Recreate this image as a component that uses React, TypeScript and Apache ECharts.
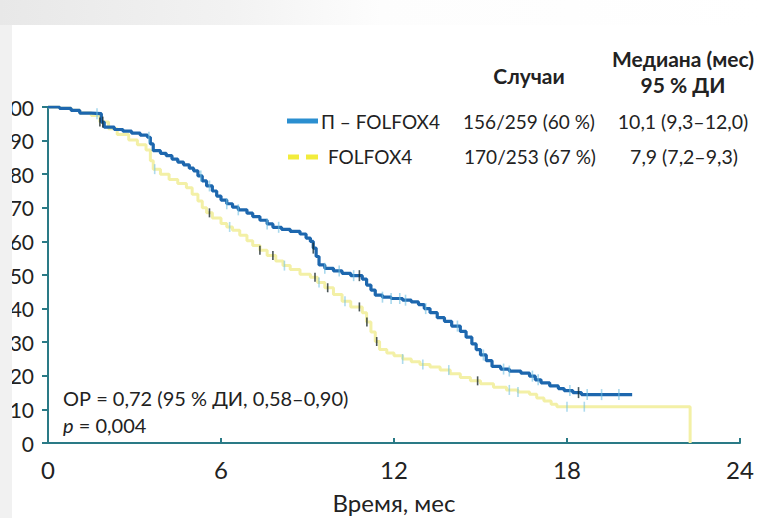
import React, { useEffect, useRef } from "react";
import * as echarts from "echarts";

// Kaplan–Meier curves: [months, survival %]
const blueCurve: [number, number][] = [
  [0, 100], [0.4, 99.6], [0.8, 99], [1.1, 98.2], [1.5, 98], [1.85, 95.5], [1.95, 94],
  [2.3, 93.3], [2.6, 92.8], [2.9, 92.2], [3.2, 91.6], [3.45, 91], [3.55, 89], [3.65, 87],
  [3.9, 86.2], [4.1, 85.5], [4.3, 84.5], [4.5, 83.6], [4.7, 82.8], [4.9, 81.8], [5.05, 81],
  [5.2, 79.5], [5.35, 78], [5.5, 76.5], [5.7, 75], [5.85, 73.5], [6.0, 72.3], [6.2, 71.2],
  [6.4, 70.2], [6.6, 69.4], [6.9, 68.4], [7.1, 67.4], [7.35, 66.3], [7.6, 65.2], [7.8, 64.2],
  [8.1, 63.6], [8.4, 63], [8.74, 62.2], [8.95, 61], [9.1, 60], [9.2, 58], [9.3, 55.5],
  [9.4, 53], [9.6, 52], [9.9, 51.2], [10.2, 50.5], [10.5, 49.8], [10.9, 48.8], [11.05, 47],
  [11.2, 45.5], [11.35, 44], [11.6, 43.4], [11.9, 43], [12.3, 42.5], [12.6, 42], [12.85, 41.2],
  [13.05, 40], [13.25, 38.8], [13.5, 37.3], [13.75, 36.2], [14.0, 34.8], [14.3, 33.2],
  [14.5, 31.5], [14.7, 29.5], [14.85, 27.8], [15.0, 26.2], [15.2, 24.5], [15.4, 22.8],
  [15.7, 22], [16.0, 21.4], [16.4, 20.8], [16.7, 19.9], [16.9, 18.8], [17.1, 17.9],
  [17.4, 17], [17.7, 16.2], [17.9, 15.6], [18.2, 15], [18.5, 14.4], [20.26, 14.4],
];
const yellowCurve: [number, number][] = [
  [0, 100], [0.4, 99.6], [0.8, 99], [1.1, 98.2], [1.5, 97.5], [1.8, 95.5], [2.1, 93.5],
  [2.4, 91.8], [2.8, 90.2], [3.1, 88.8], [3.4, 87.2], [3.55, 84], [3.65, 81.5], [3.9, 80],
  [4.2, 78.4], [4.5, 77.2], [4.8, 76], [5.0, 74], [5.2, 72], [5.35, 70], [5.5, 68.5],
  [5.7, 67], [6.0, 65.3], [6.2, 64.3], [6.4, 63.3], [6.65, 61.8], [6.9, 60.2], [7.1, 58.8],
  [7.35, 57.4], [7.6, 55.8], [7.9, 54.2], [8.15, 52.8], [8.4, 51.6], [8.74, 50.2], [9.1, 49.3],
  [9.35, 47.8], [9.6, 46.2], [9.9, 44.2], [10.2, 42.2], [10.5, 40.5], [10.9, 38.8],
  [11.05, 36], [11.2, 33], [11.35, 30.2], [11.5, 27.8], [11.75, 26.8], [12.0, 26],
  [12.3, 25], [12.6, 24.2], [12.9, 23.4], [13.25, 22.6], [13.6, 21.7], [13.95, 20.6],
  [14.3, 19.5], [14.65, 18.5], [15.0, 17.6], [15.45, 16.6], [15.9, 15.8], [16.3, 15.2],
  [16.7, 14.5], [16.95, 13.4], [17.2, 12.5], [17.45, 11.5], [17.65, 10.8], [22.27, 10.8],
  [22.27, 0],
];

// censoring marks (months)
const blueCensorLight = [1.7, 3.5, 5.3, 5.6, 6.2, 6.6, 7.6, 8.0, 9.6, 10.1, 10.6, 11.6, 11.9,
  12.2, 12.4, 13.1, 14.2, 15.1, 15.8, 16.0, 16.8, 17.0, 18.1, 18.7, 19.2, 19.8];
const blueCensorDark = [1.9, 9.2, 10.8, 18.4];
const yellowCensorLight = [3.7, 6.3, 8.2, 9.4, 10.3, 12.3, 13.0, 13.9, 16.0, 16.3, 18.0, 18.6];
const yellowCensorDark = [1.8, 5.6, 7.35, 7.8, 9.26, 9.7, 10.8, 11.06, 11.4, 14.9];

const xTicks = { min: 0, max: 24, interval: 6 };
const yTicks = { min: 0, max: 100, interval: 10 };

const legendNames = ["П – FOLFOX4", "FOLFOX4"];
const eventCounts = ["156/259 (60 %)", "170/253 (67 %)"];
const medians = ["10,1 (9,3–12,0)", "7,9 (7,2–9,3)"];
const headerCases = "Случаи";
const headerMedian = ["Медиана (мес)", "95 % ДИ"];
const hrText = "ОР = 0,72 (95 % ДИ, 0,58–0,90)";
const pText = "0,004";
const xAxisName = "Время, мес";

const FONT = "Lato, 'Open Sans', sans-serif";
const BLUE = "#1d67ae";
const YELLOW = "#f3f0a6";

function survivalAt(curve: [number, number][], t: number): number {
  let s = curve[0][1];
  for (const [ti, si] of curve) {
    if (ti <= t) s = si;
    else break;
  }
  return s;
}

export default function App() {
  const ref = useRef<HTMLDivElement>(null);
  useEffect(() => {
    if (!ref.current) return;
    const chart = echarts.init(ref.current, undefined, { renderer: "svg" });
    const censor = (times: number[], curve: [number, number][], color: string, h: number) => ({
      type: "scatter",
      data: times.map((t) => [t, survivalAt(curve, t)]),
      symbol: "rect",
      symbolSize: [1.6, h],
      itemStyle: { color },
      silent: true,
      z: 3,
    });
    const textStyle = { fontFamily: FONT, fill: "#222" };
    chart.setOption({
      animation: false,
      backgroundColor: "#ffffff",
      grid: {
        left: 48,
        right: 22,
        top: 107,
        bottom: 75,
        containLabel: false,
        outerBoundsMode: "none",
      },
      xAxis: {
        type: "value",
        min: xTicks.min,
        max: xTicks.max,
        interval: xTicks.interval,
        axisLine: { show: true, lineStyle: { color: "#2a7a86", width: 2 } },
        axisTick: { show: true, inside: true, length: 5, lineStyle: { color: "#2a7a86", width: 2 } },
        axisLabel: { fontSize: 24, color: "#222", margin: 14, fontFamily: FONT },
        splitLine: { show: false },
        name: xAxisName,
        nameLocation: "middle",
        nameGap: 47,
        nameTextStyle: { fontSize: 24, color: "#222", fontFamily: FONT },
      },
      yAxis: {
        type: "value",
        min: yTicks.min,
        max: yTicks.max,
        interval: yTicks.interval,
        axisLine: { show: true, lineStyle: { color: "#2a7a86", width: 2 } },
        axisTick: { show: true, inside: false, length: 6, lineStyle: { color: "#2a7a86", width: 2 } },
        axisLabel: { fontSize: 21, color: "#222", margin: 14, fontFamily: FONT },
        splitLine: { show: false },
      },
      series: [
        {
          type: "line",
          name: legendNames[1],
          data: yellowCurve,
          step: "end",
          showSymbol: false,
          lineStyle: { color: YELLOW, width: 3 },
          z: 1,
        },
        {
          type: "line",
          name: legendNames[0],
          data: blueCurve,
          step: "end",
          showSymbol: false,
          lineStyle: { color: BLUE, width: 3.2 },
          z: 2,
        },
        censor(yellowCensorLight, yellowCurve, "rgba(110,190,225,0.7)", 10),
        censor(yellowCensorDark, yellowCurve, "#1d2b2a", 9),
        censor(blueCensorLight, blueCurve, "rgba(110,190,225,0.75)", 11),
        censor(blueCensorDark, blueCurve, "#17303a", 11),
      ],
      graphic: [
        {
          type: "rect",
          shape: { x: 0, y: 0, width: 762, height: 25 },
          style: {
            fill: new echarts.graphic.LinearGradient(0, 0, 1, 0, [
              { offset: 0, color: "#e8e8e8" },
              { offset: 0.3, color: "#f2f2f2" },
              { offset: 0.5, color: "#fdfdfd" },
              { offset: 1, color: "#ffffff" },
            ]),
          },
          z: 100,
          silent: true,
        },
        {
          type: "rect",
          shape: { x: 0, y: 25, width: 12, height: 493 },
          style: { fill: "#f1f1f1" },
          z: 100,
          silent: true,
        },
        // headers
        { type: "text", x: 529, y: 75, style: { ...textStyle, text: headerCases, fontSize: 21, fontWeight: "bold", align: "center", verticalAlign: "middle" } },
        { type: "text", x: 683, y: 58, style: { ...textStyle, text: headerMedian[0], fontSize: 21, fontWeight: "bold", align: "center", verticalAlign: "middle" } },
        { type: "text", x: 683, y: 84, style: { ...textStyle, text: headerMedian[1], fontSize: 21, fontWeight: "bold", align: "center", verticalAlign: "middle" } },
        // legend samples
        { type: "line", shape: { x1: 287, y1: 121, x2: 318, y2: 121 }, style: { stroke: "#2b8fd0", lineWidth: 5 } },
        { type: "line", shape: { x1: 288, y1: 157, x2: 299, y2: 157 }, style: { stroke: "#f2ec3c", lineWidth: 5 } },
        { type: "line", shape: { x1: 306, y1: 157, x2: 318, y2: 157 }, style: { stroke: "#f2ec3c", lineWidth: 5 } },
        // legend rows
        { type: "text", x: 321, y: 121, style: { ...textStyle, text: legendNames[0], fontSize: 19, align: "left", verticalAlign: "middle" } },
        { type: "text", x: 328, y: 156, style: { ...textStyle, text: legendNames[1], fontSize: 19, align: "left", verticalAlign: "middle" } },
        { type: "text", x: 529, y: 121, style: { ...textStyle, text: eventCounts[0], fontSize: 19, align: "center", verticalAlign: "middle" } },
        { type: "text", x: 530, y: 156, style: { ...textStyle, text: eventCounts[1], fontSize: 19, align: "center", verticalAlign: "middle" } },
        { type: "text", x: 683, y: 121, style: { ...textStyle, text: medians[0], fontSize: 19.5, align: "center", verticalAlign: "middle" } },
        { type: "text", x: 684, y: 156, style: { ...textStyle, text: medians[1], fontSize: 19.5, align: "center", verticalAlign: "middle" } },
        // annotations
        { type: "text", x: 63, y: 398, style: { ...textStyle, text: hrText, fontSize: 20, align: "left", verticalAlign: "middle" } },
        {
          type: "text",
          x: 63,
          y: 425,
          style: {
            ...textStyle,
            text: "{i|p} = " + pText,
            fontSize: 20,
            align: "left",
            verticalAlign: "middle",
            rich: { i: { fontStyle: "italic", fontSize: 20, fontFamily: FONT, fill: "#222" } },
          },
        },
      ],
    });
    return () => chart.dispose();
  }, []);
  return (
    <div
      ref={ref}
      style={{ position: "fixed", left: 0, top: 0, width: 762, height: 518, background: "#fff" }}
    />
  );
}
